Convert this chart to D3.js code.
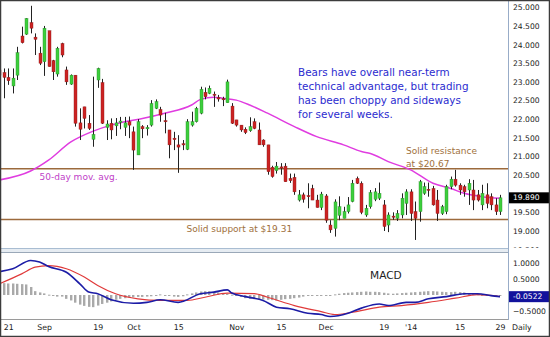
<!DOCTYPE html>
<html><head><meta charset="utf-8">
<script src="https://cdn.jsdelivr.net/npm/d3@7"></script>
<style>
html,body{margin:0;padding:0;background:#fff;}
svg{display:block;font-family:"DejaVu Sans",Verdana,sans-serif;}
</style></head><body>
<svg id="chart" width="550" height="337"></svg>
<script>
// Daily OHLC, one entry per trading day (day 0 = Aug 19, last = Jan 29)
const opens = [23.32,23.25,23.12,22.89,23.18,24.23,24.28,24.59,24.20,23.77,
  23.54,24.37,23.57,23.21,24.03,23.32,22.94,23.18,21.90,22.33,
  21.89,21.46,23.05,22.98,21.78,21.89,21.82,21.93,21.78,21.93,
  21.66,21.04,21.80,21.74,21.84,22.29,22.26,21.96,21.71,21.49,
  21.31,21.34,21.19,21.84,21.93,22.16,22.72,22.69,22.67,22.58,
  22.55,22.44,22.35,21.98,21.84,21.73,21.69,21.93,21.71,21.44,
  21.31,20.71,20.62,20.72,20.74,20.41,20.44,19.83,19.97,19.95,
  20.14,19.83,19.63,19.94,19.16,19.07,19.42,19.34,19.52,19.79,
  20.41,20.28,19.43,19.65,19.85,19.88,19.70,19.16,19.40,19.34,
  19.43,19.74,20.05,19.52,19.52,20.01,20.12,20.14,19.83,19.47,
  19.52,20.19,20.39,20.23,20.19,20.10,20.10,19.97,19.70,19.97,
  19.92,19.70,19.52];
const highs = [23.40,23.36,23.36,23.36,23.94,24.48,24.71,25.04,24.30,23.94,
  24.50,24.37,23.59,23.94,24.05,23.41,23.20,23.18,22.29,22.33,
  22.11,23.14,23.38,23.08,21.97,22.02,22.03,22.06,22.06,22.07,
  21.80,22.00,21.84,21.84,22.51,22.53,22.33,22.17,21.71,21.66,
  21.57,21.44,22.00,22.20,22.33,22.87,22.85,22.90,22.74,22.65,
  22.60,23.06,22.43,21.98,21.84,21.78,22.05,22.02,21.91,21.46,
  21.31,20.75,20.85,20.82,20.82,20.54,20.54,20.10,20.03,20.28,
  20.24,19.97,20.05,19.99,19.29,19.85,19.93,19.65,19.91,20.37,
  20.46,20.33,19.70,20.10,20.15,20.30,19.83,19.50,19.50,19.56,
  20.01,20.12,20.12,19.79,20.37,20.30,20.30,20.21,20.10,19.70,
  20.24,20.46,20.64,20.28,20.24,20.39,20.37,20.10,20.24,20.28,
  20.01,19.88,19.97];
const lows = [23.10,22.56,22.92,22.69,23.05,24.03,24.26,24.30,23.72,23.45,
  23.16,23.41,23.05,23.14,23.66,22.92,22.92,21.80,21.44,21.75,
  21.71,21.26,22.84,21.87,21.44,21.46,21.55,21.73,21.55,21.49,
  20.64,21.04,21.49,21.56,21.80,22.27,21.93,21.62,20.95,21.17,
  20.56,21.17,21.17,21.80,21.91,22.13,22.53,22.67,22.33,22.47,
  22.35,22.44,21.87,21.80,21.66,21.60,21.66,21.73,21.31,21.26,
  20.51,20.43,20.54,20.51,20.32,20.29,19.97,19.79,19.76,19.61,
  19.83,19.63,19.56,19.22,18.95,18.85,19.29,19.34,19.47,19.77,
  20.26,19.45,19.38,19.60,19.80,19.83,19.00,18.97,19.30,19.27,
  19.34,19.43,19.27,18.76,19.25,19.97,19.92,19.68,19.27,19.43,
  19.45,20.12,20.19,19.97,19.92,19.70,19.56,19.79,19.56,19.61,
  19.56,19.43,19.43];
const closes = [23.18,23.12,23.03,23.10,23.78,24.05,24.70,24.44,24.14,23.50,
  24.44,23.41,23.27,23.90,23.72,23.00,23.18,21.89,21.73,22.02,
  21.75,21.59,23.36,21.89,21.87,21.71,21.90,21.95,21.90,21.84,
  21.17,21.93,21.74,21.78,22.42,22.47,22.11,21.93,21.31,21.45,
  21.25,21.31,21.93,21.93,22.29,22.80,22.60,22.83,22.64,22.54,
  22.53,23.00,21.89,21.84,21.71,21.64,21.80,21.75,21.31,21.31,
  20.59,20.46,20.74,20.69,20.32,20.35,20.05,19.97,19.85,19.92,
  19.83,19.63,19.99,19.29,19.03,19.78,19.65,19.52,19.70,20.28,
  20.28,19.50,19.61,20.03,20.05,20.01,19.12,19.43,19.38,19.47,
  19.88,20.05,19.47,19.34,20.32,20.19,20.10,19.70,19.47,19.65,
  20.19,20.39,20.23,20.10,20.05,20.28,19.83,19.83,20.01,19.74,
  19.70,19.52,19.89];

// 50-day moving average, sampled by trading day
const maDay   = [0,7,11,16,21,25,28,32,37,43,45,48,50,53,56,60,66,71,77,81,83,87,92,97,101,104,108,112];
const maValue = [20.37,20.61,20.90,21.39,21.68,21.84,21.93,22.02,22.16,22.38,22.53,22.59,22.56,22.51,22.38,22.16,21.80,21.53,21.31,21.13,21.08,20.86,20.64,20.28,20.14,20.01,19.92,19.88];

// MACD line and signal line, sampled by trading day
const macdDay   = [0,3,7,9,11,15,18,20,22,25,30,33,36,40,45,48,51,52,55,59,62,65,69,72,74,78,81,85,87,91,93,96,100,104,107,110,112];
const macdValue = [0.73,0.82,1.08,1.03,0.89,0.71,0.35,0.09,0.04,-0.15,-0.26,-0.23,-0.15,-0.23,0.04,0.09,0.16,0.06,-0.05,-0.17,-0.38,-0.43,-0.57,-0.61,-0.67,-0.57,-0.41,-0.28,-0.33,-0.23,-0.23,-0.12,-0.05,0.04,0.04,-0.02,-0.0522];
const signalDay   = [0,5,8,11,15,19,22,26,31,36,42,46,51,57,60,66,72,75,79,85,90,96,102,107,112];
const signalValue = [0.35,0.66,0.87,0.92,0.82,0.56,0.30,0.04,-0.12,-0.17,-0.17,-0.07,0.06,0.04,-0.07,-0.33,-0.52,-0.61,-0.54,-0.38,-0.33,-0.23,-0.10,0.01,-0.05];
// MACD histogram, one bar per trading day
const histValue = [0.36,0.37,0.36,0.36,0.35,0.34,0.33,0.25,0.12,0.08,
  0.05,0.01,-0.03,-0.05,-0.05,-0.12,-0.17,-0.24,-0.30,-0.34,
  -0.37,-0.38,-0.33,-0.28,-0.24,-0.20,-0.15,-0.12,-0.10,-0.08,
  -0.07,-0.06,-0.06,-0.05,-0.04,-0.02,0.02,-0.01,-0.03,-0.05,
  -0.06,-0.04,0.02,0.05,0.08,0.11,0.12,0.12,0.10,0.08,
  0.06,0.04,0.01,-0.02,-0.06,-0.10,-0.12,-0.13,-0.14,-0.14,
  -0.15,-0.16,-0.17,-0.15,-0.13,-0.12,-0.10,-0.08,-0.05,-0.03,
  -0.02,-0.02,-0.02,-0.02,-0.01,0.02,0.04,0.06,0.07,0.08,
  0.09,0.10,0.11,0.10,0.10,0.09,0.07,0.05,0.04,0.05,
  0.06,0.07,0.08,0.09,0.10,0.11,0.12,0.12,0.11,0.10,
  0.09,0.09,0.10,0.09,0.08,0.05,0.03,0.02,0.00,-0.01,
  -0.02,-0.02,-0.02];

// axis labels (the 20.000 and 0.0000 rows sit under the last-value flags)
const priceTicks = [18.5,19,19.5,20.5,21,21.5,22,22.5,23,23.5,24,24.5,25];
const macdTicks = [-0.5,0.5,1];
const dateTickDay = [2,10,22,30,40,53,63,73,86,92,103,112];
const dateTickLabel = ["21","Sep","19","Oct","15","Nov","15","Dec","19","'14","15","29"];
const supportLevel = 19.31, resistanceLevel = 20.67;
const lastClose = 19.89, lastMacd = -0.0522;
const noteLines = ["Bears have overall near-term","technical advantage, but trading","has been choppy and sideways","for several weeks."];

const svg = d3.select("#chart");
const W = 550, H = 337, plotRight = 508;
const mainTop = 2, mainBottom = 248, macdTop = 253, macdBottom = 319;

const x = d3.scaleLinear().domain([2,112]).range([8.3,500]);
const y = d3.scaleLinear().domain([19,25]).range([231,7.3]);
const ym = d3.scaleLinear().domain([-0.5,1]).range([311,263]);

const defs = svg.append("defs");
defs.append("clipPath").attr("id","clipMain").append("rect")
  .attr("x",1).attr("y",mainTop).attr("width",plotRight-1).attr("height",mainBottom-mainTop);
defs.append("clipPath").attr("id","clipMacd").append("rect")
  .attr("x",1).attr("y",macdTop).attr("width",plotRight-1).attr("height",macdBottom-macdTop);
defs.append("clipPath").attr("id","clipAxis").append("rect")
  .attr("x",plotRight).attr("y",mainTop).attr("width",W-plotRight).attr("height",mainBottom-mainTop);

svg.append("rect").attr("width",W).attr("height",H).attr("fill","#fff");

// ---------- price panel ----------
const main = svg.append("g").attr("clip-path","url(#clipMain)");
const brown = "#9c6a3c";
[supportLevel, resistanceLevel].forEach(v => {
  main.append("line").attr("x1",0).attr("x2",plotRight)
    .attr("y1",y(v)).attr("y2",y(v))
    .attr("stroke",brown).attr("stroke-width",1.6);
});

const days = d3.range(opens.length);

main.append("path")
  .datum(maDay.map((d,i)=>[d,maValue[i]]))
  .attr("fill","none").attr("stroke","#e03ce0").attr("stroke-width",1.5)
  .attr("d", d3.line().x(d=>x(d[0])).y(d=>y(d[1])).curve(d3.curveMonotoneX));

main.selectAll("line.wick").data(days).join("line").attr("class","wick")
  .attr("x1",d=>Math.round(x(d))+0.5).attr("x2",d=>Math.round(x(d))+0.5)
  .attr("y1",d=>y(highs[d])).attr("y2",d=>y(lows[d]))
  .attr("stroke","#222").attr("stroke-width",1);

main.selectAll("rect.body").data(days).join("rect").attr("class","body")
  .attr("x",d=>Math.round(x(d))-1)
  .attr("width",3)
  .attr("y",d=>y(Math.max(opens[d],closes[d])))
  .attr("height",d=>Math.max(1.2, Math.abs(y(opens[d])-y(closes[d]))))
  .attr("fill",d=>closes[d]>=opens[d] ? "#3ccf3c" : "#cc2222")
  .attr("stroke",d=>closes[d]>=opens[d] ? "#2a8a2a" : "#8a1a1a")
  .attr("stroke-width",0.4);

// annotations
const note = svg.append("g").attr("fill","#2b2bcf").attr("font-size","10.4px");
noteLines.forEach((t,i)=>{
  note.append("text").attr("x",298).attr("y",76+i*14).text(t);
});
svg.append("text").attr("x",39.5).attr("y",180).attr("fill","#c040c8")
  .attr("font-size","9px").text("50-day mov. avg.");
svg.append("text").attr("x",406).attr("y",154).attr("fill","#a0703c")
  .attr("font-size","9px").text("Solid resistance");
svg.append("text").attr("x",406).attr("y",166.5).attr("fill","#a0703c")
  .attr("font-size","9px").text("at $" + resistanceLevel.toFixed(2));
svg.append("text").attr("x",186.5).attr("y",231.5).attr("fill","#a0703c")
  .attr("font-size","9px").text("Solid support at $" + supportLevel.toFixed(2));

// ---------- MACD panel ----------
const macd = svg.append("g").attr("clip-path","url(#clipMacd)");
macd.selectAll("rect.hist").data(days).join("rect").attr("class","hist")
  .attr("x",d=>Math.round(x(d))-1).attr("width",2.4)
  .attr("y",d=>Math.min(ym(0), ym(histValue[d])))
  .attr("height",d=>Math.max(1, Math.abs(ym(histValue[d])-ym(0))))
  .attr("fill","#a9a9a9");

macd.append("path")
  .datum(signalDay.map((d,i)=>[d,signalValue[i]]))
  .attr("fill","none").attr("stroke","#e03a3a").attr("stroke-width",1.2)
  .attr("d", d3.line().x(d=>x(d[0])).y(d=>ym(d[1])).curve(d3.curveMonotoneX));
macd.append("path")
  .datum(macdDay.map((d,i)=>[d,macdValue[i]]))
  .attr("fill","none").attr("stroke","#1c1ca6").attr("stroke-width",1.6)
  .attr("d", d3.line().x(d=>x(d[0])).y(d=>ym(d[1])).curve(d3.curveMonotoneX));

svg.append("text").attr("x",370).attr("y",279).attr("fill","#222")
  .attr("font-size","10.6px").text("MACD");

// ---------- frames and separators ----------
svg.append("rect").attr("x",0).attr("y",mainBottom).attr("width",plotRight+1).attr("height",macdTop-mainBottom)
  .attr("fill","#e6ecf2");
svg.append("line").attr("x1",0).attr("x2",plotRight).attr("y1",mainBottom+0.5).attr("y2",mainBottom+0.5)
  .attr("stroke","#a9bdd2");
svg.append("line").attr("x1",0).attr("x2",plotRight).attr("y1",macdTop-0.5).attr("y2",macdTop-0.5)
  .attr("stroke","#9aa8b8");
svg.append("line").attr("x1",0).attr("x2",plotRight).attr("y1",macdBottom+0.5).attr("y2",macdBottom+0.5)
  .attr("stroke","#9a9a9a");
svg.append("line").attr("x1",plotRight+0.5).attr("x2",plotRight+0.5).attr("y1",0).attr("y2",macdBottom+1)
  .attr("stroke","#98acc8");

// ---------- axes ----------
const axisFont = "7.6px";
const pAxisWrap = svg.append("g").attr("clip-path","url(#clipAxis)");
const pAxis = pAxisWrap.append("g").attr("transform",`translate(${plotRight},0)`)
  .call(d3.axisRight(y).tickValues(priceTicks).tickSize(0).tickPadding(5).tickFormat(d3.format(".3f")));
pAxis.select(".domain").remove();
pAxis.selectAll("text").attr("font-size",axisFont).attr("fill","#222").attr("font-family","DejaVu Sans");

const mAxis = svg.append("g").attr("transform",`translate(${plotRight},0)`)
  .call(d3.axisRight(ym).tickValues(macdTicks).tickSize(0).tickPadding(5).tickFormat(d3.format(".4f")));
mAxis.select(".domain").remove();
mAxis.selectAll("text").attr("font-size",axisFont).attr("fill","#222").attr("font-family","DejaVu Sans");

const xAxis = svg.append("g").attr("transform",`translate(0,${macdBottom+1})`)
  .call(d3.axisBottom(x).tickValues(dateTickDay).tickSize(0).tickPadding(4)
    .tickFormat((d,i)=>dateTickLabel[i]));
xAxis.select(".domain").remove();
xAxis.selectAll("text").attr("font-size","7.8px").attr("fill","#222").attr("font-family","DejaVu Sans");
svg.append("text").attr("x",512).attr("y",329.5).attr("font-size","7.8px").attr("fill","#222").text("Daily");

// last-value flags
svg.append("rect").attr("x",509).attr("y",y(lastClose)-5.5).attr("width",41).attr("height",11).attr("fill","#000");
svg.append("text").attr("x",513).attr("y",y(lastClose)).attr("dy","0.34em")
  .attr("font-size",axisFont).attr("fill","#fff").text(lastClose.toFixed(3));
svg.append("rect").attr("x",509).attr("y",ym(lastMacd)-5.5).attr("width",41).attr("height",11).attr("fill","#12129c");
svg.append("text").attr("x",513).attr("y",ym(lastMacd)).attr("dy","0.34em")
  .attr("font-size",axisFont).attr("fill","#fff").text(lastMacd.toFixed(4));

// outer border
svg.append("rect").attr("x",0.5).attr("y",0.5).attr("width",W-1).attr("height",H-1)
  .attr("fill","none").attr("stroke","#3c3c3c").attr("stroke-width",1.5);
</script>
</body></html>
